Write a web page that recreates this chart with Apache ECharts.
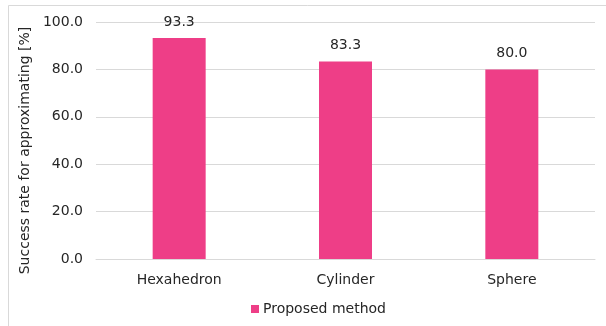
<!DOCTYPE html>
<html>
<head>
<meta charset="utf-8">
<script src="https://cdn.jsdelivr.net/npm/echarts@6/dist/echarts.min.js"></script>
<style>
  html, body { margin: 0; padding: 0; background: #ffffff; }
  #chart { width: 606px; height: 326px; }
</style>
</head>
<body>
<div id="chart"></div>
<script>
// Shapes approximated and the success rate for each
const categories = ['Hexahedron', 'Cylinder', 'Sphere'];
const successRates = [93.3, 83.3, 80.0];
const seriesName = 'Proposed method';
const axisTitle = 'Success rate for approximating [%]';

const FONT = 'DejaVu Sans';
const TEXT = '#262626';
const GRIDLINE = '#d9d9d9';
const BAR = '#ee3e87';

const chart = echarts.init(document.getElementById('chart'), null, { renderer: 'canvas' });

chart.setOption({
  animation: false,
  backgroundColor: '#ffffff',
  textStyle: { fontFamily: FONT },
  graphic: [{
    type: 'rect',
    shape: { x: 8.5, y: 5.5, width: 620, height: 340 },
    style: { fill: 'none', stroke: GRIDLINE, lineWidth: 1 },
    silent: true,
    z: -1
  }],
  grid: { left: 96, right: 11, top: 22, bottom: 67, containLabel: false },
  legend: {
    data: [seriesName],
    bottom: 5,
    left: 246,
    itemWidth: 8,
    itemHeight: 8,
    itemGap: 4,
    icon: 'rect',
    textStyle: { fontFamily: FONT, fontSize: 14, color: TEXT, padding: [0, 0, 0, -1] }
  },
  xAxis: {
    type: 'category',
    data: categories,
    axisLine: { show: true, lineStyle: { color: GRIDLINE, width: 1 } },
    axisTick: { show: false },
    axisLabel: { fontFamily: FONT, fontSize: 14, color: TEXT, margin: 14 }
  },
  yAxis: {
    type: 'value',
    min: 0,
    max: 100,
    interval: 20,
    name: axisTitle,
    nameLocation: 'middle',
    nameGap: 56,
    nameTextStyle: { fontFamily: FONT, fontSize: 14, color: TEXT, padding: [0, 20, 0, 0] },
    axisLine: { show: false },
    axisTick: { show: false },
    axisLabel: {
      fontFamily: FONT, fontSize: 14, color: TEXT, margin: 13,
      formatter: v => v.toFixed(1)
    },
    splitLine: { lineStyle: { color: GRIDLINE, width: 1 } }
  },
  series: [{
    name: seriesName,
    type: 'bar',
    data: successRates,
    barWidth: 53,
    itemStyle: { color: BAR },
    label: {
      show: true,
      position: 'top',
      distance: 9,
      fontFamily: FONT,
      fontSize: 14,
      color: TEXT,
      formatter: p => p.value.toFixed(1)
    }
  }]
});
</script>
</body>
</html>
